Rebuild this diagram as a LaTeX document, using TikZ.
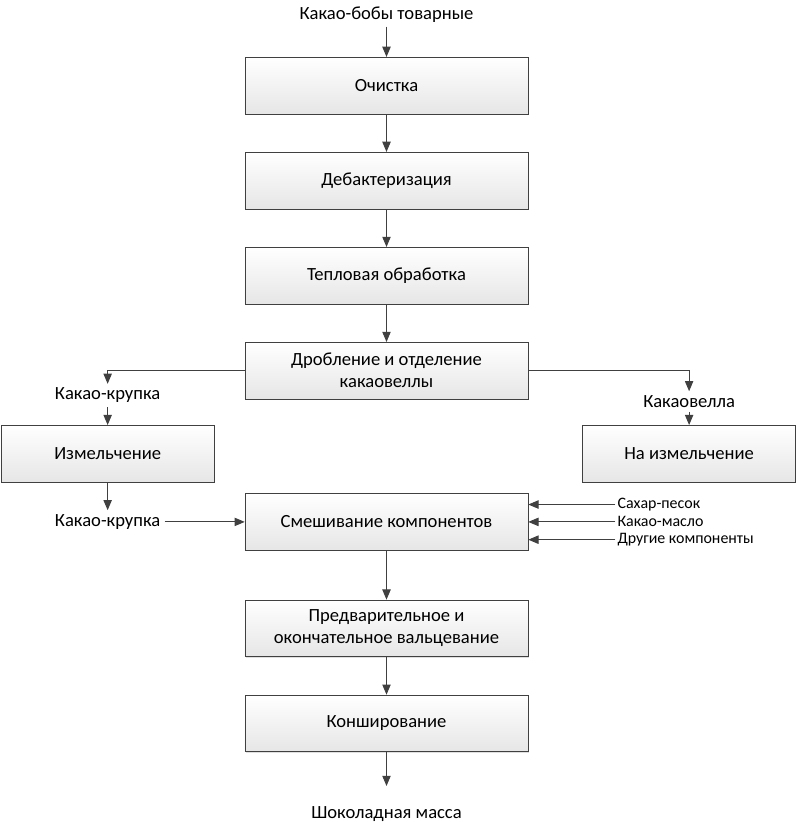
\documentclass[tikz,border=0pt]{standalone}
\usepackage{fontspec}
\setmainfont{Carlito}
\usepackage{tikz}
\usetikzlibrary{arrows, positioning, shadows}
\definecolor{linegray}{RGB}{64, 64, 64}
\definecolor{boxgray}{RGB}{230, 230, 230}

\begin{document}
\begin{tikzpicture}[
    node distance=1cm,
    stage/.style={rectangle, minimum width=7.49cm, minimum height=1.5cm, text centered, align=center, draw=linegray, top color=white, bottom color=boxgray, drop shadow={shadow xshift=0.8pt, shadow yshift=-0.8pt, opacity=0.25}, font=\fontsize{14}{16.4}\selectfont},
    sidestage/.style={stage, minimum width=5.63cm},
    flowtext/.style={inner sep=3pt, font=\fontsize{14}{16.4}\selectfont},
    inputtext/.style={inner sep=1.5pt, font=\fontsize{12}{14}\selectfont},
    arrow/.style={->, >=triangle 45, draw=linegray, line width=0.75pt}
]

    \path[use as bounding box] (-10.226, 2.262) rectangle (10.808, -19.486);

    % main column
    \node[stage] (clean) {Очистка};
    \node[flowtext, above=0.8cm of clean] (beans) {Какао-бобы товарные};
    \node[stage, below=of clean] (debact) {Дебактеризация};
    \node[stage, below=of debact] (heat) {Тепловая обработка};
    \node[stage, below=of heat] (crush) {Дробление и отделение\\какаовеллы};
    \node[stage, below=2.49cm of crush] (mix) {Смешивание компонентов};
    \node[stage, below=1.3cm of mix] (roll) {Предварительное и\\окончательное вальцевание};
    \node[stage, below=of roll] (conch) {Конширование};
    \node[flowtext, below=1.34cm of conch] (mass) {Шоколадная масса};

    % side branches
    \node[flowtext, left=2.12cm of mix] (nibs2) {Какао-крупка};
    \node[sidestage, above=0.74cm of nibs2] (grind) {Измельчение};
    \node[flowtext, above=0.47cm of grind] (nibs1) {Какао-крупка};
    \node[sidestage, right=9.74cm of grind] (shellgrind) {На измельчение};
    \node[flowtext, above=0.35cm of shellgrind] (shell) {Какаовелла};

    % added components
    \node[inputtext, right=2.3cm of mix.east, yshift=0.46cm] (sugar) {Сахар-песок};
    \node[inputtext, right=2.3cm of mix.east] (butter) {Какао-масло};
    \node[inputtext, right=2.3cm of mix.east, yshift=-0.47cm] (other) {Другие компоненты};

    \draw[arrow] (beans) -- (clean);
    \draw[arrow] (clean) -- (debact);
    \draw[arrow] (debact) -- (heat);
    \draw[arrow] (heat) -- (crush);
    \draw[arrow] (crush.west) -| (nibs1.north);
    \draw[arrow] (nibs1) -- (grind);
    \draw[arrow] (grind) -- (nibs2);
    \draw[arrow] (nibs2) -- (mix);
    \draw[arrow] (crush.east) -| (shell.north);
    \draw[arrow] (shell) -- (shellgrind);
    \draw[arrow] (sugar.west) -- (sugar.west -| mix.east);
    \draw[arrow] (butter.west) -- (butter.west -| mix.east);
    \draw[arrow] (other.west) -- (other.west -| mix.east);
    \draw[arrow] (mix) -- (roll);
    \draw[arrow] (roll) -- (conch);
    \draw[arrow, shorten >=12.5pt] (conch) -- (mass);

\end{tikzpicture}
\end{document}
